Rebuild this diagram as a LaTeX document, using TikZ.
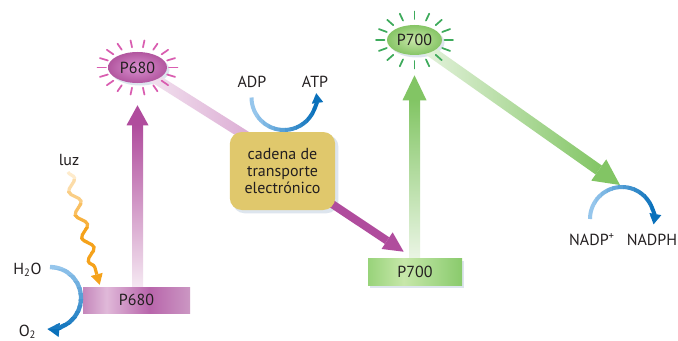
\documentclass[tikz,border=0pt]{standalone}
\usepackage{fontspec}
\setmainfont{PT Sans}
\usetikzlibrary{arrows.meta,calc,decorations.pathmorphing,shapes.geometric}
\pgfdeclarelayer{bg}
\pgfsetlayers{bg,main}
\definecolor{txt}{HTML}{231F20}
\definecolor{mag}{HTML}{B04C9D}
\definecolor{magL}{HTML}{F5E8F2}
\definecolor{magM}{HTML}{D49BCB}
\definecolor{magS}{HTML}{F0DDEC}
\definecolor{ray680}{HTML}{D95DB0}
\definecolor{grn}{HTML}{82C564}
\definecolor{grnL}{HTML}{EAF5E4}
\definecolor{ray700}{HTML}{3DAA5B}
\definecolor{blueL}{HTML}{96C6EC}
\definecolor{blueD}{HTML}{0A71BB}
\definecolor{orgD}{HTML}{F5A21B}
\definecolor{orgL}{HTML}{FEEBCB}
\definecolor{gold}{HTML}{E0C86C}
\definecolor{shad}{HTML}{DDE5EE}
\definecolor{ei680}{HTML}{D991D0}
\definecolor{eo680}{HTML}{B2569F}
\definecolor{ei700}{HTML}{C8E6A8}
\definecolor{eo700}{HTML}{86C566}
\definecolor{bm1}{HTML}{C587BB}
\definecolor{bm2}{HTML}{E0B9D9}
\definecolor{bm3}{HTML}{B865AB}
\definecolor{bm4}{HTML}{CB97C3}
\definecolor{bg1}{HTML}{98D37A}
\definecolor{bg2}{HTML}{C7E7AA}
\definecolor{bg3}{HTML}{A3D787}
\definecolor{bg4}{HTML}{8ACA6C}
\pgfdeclarehorizontalshading{barmag}{100bp}{color(0bp)=(bm1); color(25bp)=(bm1); color(36bp)=(bm2); color(56bp)=(bm3); color(75bp)=(bm4); color(100bp)=(bm4)}
\pgfdeclarehorizontalshading{bargrn}{100bp}{color(0bp)=(bg1); color(25bp)=(bg1); color(44bp)=(bg2); color(62bp)=(bg3); color(75bp)=(bg4); color(100bp)=(bg4)}
\begin{document}
\begin{tikzpicture}[x=0.75pt,y=0.75pt,
  lbl/.style={font=\fontsize{12}{12.5}\selectfont, text=txt, inner sep=0pt},
  ellnode/.style={ellipse, inner sep=0pt, shade, lbl},
  barnode/.style={rectangle, inner sep=0pt, shade, lbl},
  raystyle/.style={line width=1.3pt, line cap=round}]
\useasboundingbox (0,0) rectangle (678,340);

% main nodes
\node[ellnode, minimum width=44.25pt, minimum height=23.25pt, inner color=ei680, outer color=eo680] (e680) at (137.5,272.5) {P680};
\node[barnode, shading=barmag, minimum width=80.25pt, minimum height=19.5pt] (b680) at (136.5,40) {P680};
\node[ellnode, minimum width=41.25pt, minimum height=22.5pt, inner color=ei700, outer color=eo700] (e700) at (414.5,300) {P700};
\node[barnode, shading=bargrn, minimum width=70.5pt, minimum height=20.25pt] (b700) at (415,68.5) {P700};
\node[lbl, fill=gold, rounded corners=9pt, minimum width=79pt, minimum height=58.5pt, align=center] (box) at (282.5,169) {cadena de\\transporte\\electrónico};

% labels
\node[lbl] (luz) at (69,180) {luz};
\node[lbl] (h2o) at (27.5,70) {H\textsubscript{2}O};
\node[lbl, anchor=south] (o2) at (27.5,1) {O\textsubscript{2}};
\node[lbl] (adp) at (252,258) {ADP};
\node[lbl] (atp) at (315,258) {ATP};
\node[lbl] (nadp) at (592,100) {NADP\textsuperscript{+}};
\node[lbl] (nadph) at (652,100) {NADPH};

% coordinates
\coordinate (a1s) at (50,73);
\coordinate (a2s) at (251.5,242.5);
\coordinate (a3s) at (590,121);
\coordinate (ws) at ($(luz.south)+(-1,-6)$);
\coordinate (wt) at ($(b680.north west)+(17,2)$);
\coordinate (wh) at ($(wt)!8pt!(ws)$);
\coordinate (u1t) at ($(e680.south)+(0,-22)$);
\coordinate (u1h) at ($(u1t)+(0,-20)$);
\coordinate (u2t) at ($(e700.south)+(0,-20)$);
\coordinate (u2h) at ($(u2t)+(0,-25)$);
\coordinate (m1t) at ($(b700.north west)+(36,6)$);
\coordinate (m1h) at ($(m1t)!15pt!(box.center)$);
\coordinate (g1t) at (620,155);
\coordinate (g1h) at ($(g1t)!19.5pt!(e700.center)$);
\coordinate (p1e) at ($(box.center)+(0,12)$);

\begin{pgfonlayer}{bg}
\fill[white] (0,0) rectangle (678,340);
% shadows
\fill[shad, rounded corners=9pt] ($(box.south west)+(3,-3)$) rectangle ($(box.north east)+(3,-3)$);
\fill[shad] ($(b700.south west)+(2,-3)$) rectangle ($(b700.north east)+(2,-3)$);
\fill[shad] ($(e680.center)+(2.5,-2.5)$) ellipse [x radius=29.5, y radius=15.5];
\fill[shad] ($(e700.center)+(2.5,-2.5)$) ellipse [x radius=27.5, y radius=15];
% P680 -> cadena
\shade[left color=magL, right color=magM]
  ($(e680.center)!3.75pt!90:(p1e)$) -- ($(p1e)!3.75pt!-90:(e680.center)$) --
  ($(p1e)!3.75pt!90:(e680.center)$) -- ($(e680.center)!3.75pt!-90:(p1e)$) -- cycle;
% cadena -> P700
\fill[mag]
  ($(box.center)!3pt!90:(m1h)$) -- ($(m1h)!3pt!-90:(box.center)$) --
  ($(m1h)!3pt!90:(box.center)$) -- ($(box.center)!3pt!-90:(m1h)$) -- cycle;
\fill[mag] (m1t) -- ($(m1h)!7.5pt!90:(m1t)$) -- ($(m1h)!7.5pt!-90:(m1t)$) -- cycle;
% P700 -> NADPH
\shade[left color=grnL, right color=grn]
  ($(e700.center)!4.1pt!90:(g1h)$) -- ($(g1h)!4.1pt!-90:(e700.center)$) --
  ($(g1h)!4.1pt!90:(e700.center)$) -- ($(e700.center)!4.1pt!-90:(g1h)$) -- cycle;
\fill[grn] (g1t) -- ($(g1h)!9.75pt!90:(g1t)$) -- ($(g1h)!9.75pt!-90:(g1t)$) -- cycle;
% up arrows
\shade[bottom color=magL, top color=mag] ($(u1h|-b680.north)+(-5.5,0)$) rectangle ($(u1h)+(5.5,0.5)$);
\fill[mag] (u1t) -- ($(u1h)+(-11,0)$) -- ($(u1h)+(11,0)$) -- cycle;
\shade[bottom color=grnL, top color=grn] ($(u2h|-b700.north)+(-5.5,0)$) rectangle ($(u2h)+(5.5,0.5)$);
\fill[grn] (u2t) -- ($(u2h)+(-12,0)$) -- ($(u2h)+(12,0)$) -- cycle;
\end{pgfonlayer}

% rays
\foreach \a in {0,20,...,340}
  \draw[raystyle, ray680] ($(e680.center)+(\a:31.5 and 20.5)$) -- ($(e680.center)+(\a:40 and 27.5)$);
\foreach \a in {0,22.5,...,337.5}
  \draw[raystyle, ray700] ($(e700.center)+(\a:30 and 21)$) -- ($(e700.center)+(\a:38.5 and 28.5)$);

% light (wavy)
\foreach \i in {0,...,9}{
  \pgfmathtruncatemacro\p{min(100,180*\i/9)}
  \pgfmathsetmacro\yhi{ifthenelse(\i==0,400,172-\i*12+0.6)}
  \pgfmathsetmacro\ylo{ifthenelse(\i==9,-50,172-(\i+1)*12)}
  \begin{scope}
    \clip (-50,\ylo) rectangle (300,\yhi);
    \draw[orgD!\p!orgL, line width=2.4pt, decorate,
      decoration={snake, amplitude=3.5pt, segment length=18pt, post length=3pt}] (ws) -- (wh);
    \fill[orgD!\p!orgL] (wt) -- ($(wh)!4.5pt!90:(wt)$) -- ($(wh)!4.5pt!-90:(wt)$) -- cycle;
  \end{scope}
}

% H2O -> O2 arc
\foreach \i in {0,...,11}{
  \pgfmathtruncatemacro\p{100*\i/11}
  \pgfmathsetmacro\yhi{ifthenelse(\i==0,400,76-\i*6+0.6)}
  \pgfmathsetmacro\ylo{ifthenelse(\i==11,-50,76-(\i+1)*6)}
  \begin{scope}
    \clip (-50,\ylo) rectangle (200,\yhi);
    \draw[blueD!\p!blueL, line width=3.2pt, -{Triangle[length=9pt,width=10pt]}]
      (a1s) arc[start angle=90, end angle=-95, radius=31];
  \end{scope}
}
% ADP -> ATP arc
\foreach \i in {0,...,11}{
  \pgfmathtruncatemacro\p{100*\i/11}
  \pgfmathsetmacro\xlo{ifthenelse(\i==0,100,252+\i*5.5)}
  \pgfmathsetmacro\xhi{ifthenelse(\i==11,450,252+(\i+1)*5.5+0.6)}
  \begin{scope}
    \clip (\xlo,150) rectangle (\xhi,300);
    \draw[blueD!\p!blueL, line width=3pt, -{Triangle[length=7.5pt,width=8pt]}]
      (a2s) arc[start angle=180, end angle=368, radius=32.5];
  \end{scope}
}
% NADP+ -> NADPH arc
\foreach \i in {0,...,11}{
  \pgfmathtruncatemacro\p{100*\i/11}
  \pgfmathsetmacro\xlo{ifthenelse(\i==0,500,590+\i*5.5)}
  \pgfmathsetmacro\xhi{ifthenelse(\i==11,700,590+(\i+1)*5.5+0.6)}
  \begin{scope}
    \clip (\xlo,50) rectangle (\xhi,200);
    \draw[blueD!\p!blueL, line width=3pt, -{Triangle[length=8pt,width=8.5pt]}]
      (a3s) arc[start angle=180, end angle=-10, radius=32];
  \end{scope}
}
\end{tikzpicture}
\end{document}
